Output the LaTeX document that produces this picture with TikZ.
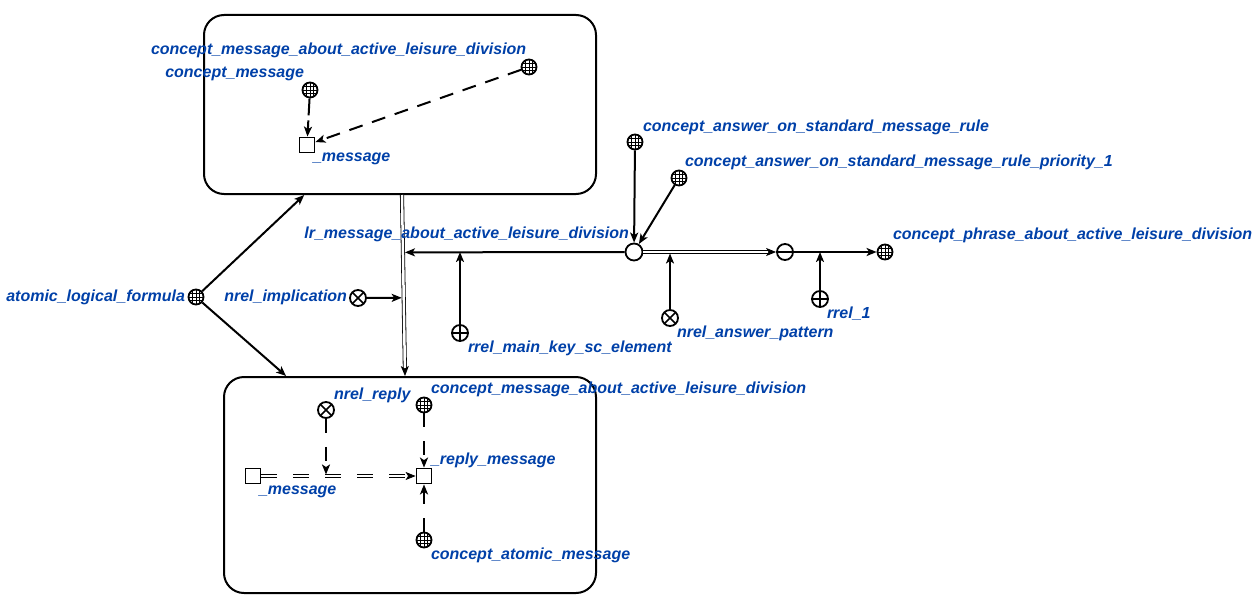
\documentclass[tikz,border=0pt]{standalone}
\usepackage{fontspec}
\setmainfont{Liberation Sans}
\usetikzlibrary{arrows.meta,positioning,calc}
\definecolor{sc-blue}{RGB}{0,64,168}

\begin{document}
\begin{tikzpicture}[x=1pt, y=-1pt, >={Stealth[length=10pt,width=8pt,inset=2.5pt]}, line width=2pt,
	   lbl/.style={text=sc-blue, font=\fontsize{16}{18}\selectfont\bfseries\itshape, inner sep=0pt},
	   box/.style={draw, rounded corners=20pt, line width=2pt},
	   cls/.style={circle, draw, fill=white, minimum size=15pt, inner sep=0pt, line width=1.8pt,
	     path picture={\foreach \gx in {-3.5,0,3.5}{
	       \draw[line width=0.7pt] ([xshift=\gx pt]path picture bounding box.north) -- ([xshift=\gx pt]path picture bounding box.south);
	       \draw[line width=0.7pt] ([yshift=\gx pt]path picture bounding box.west) -- ([yshift=\gx pt]path picture bounding box.east);}}},
	   rel/.style={circle, draw, fill=white, minimum size=16pt, inner sep=0pt, line width=1.8pt,
	     path picture={\draw[line width=1.5pt] (path picture bounding box.north west) -- (path picture bounding box.south east)
	       (path picture bounding box.south west) -- (path picture bounding box.north east);}},
	   role/.style={circle, draw, fill=white, minimum size=16pt, inner sep=0pt, line width=1.8pt,
	     path picture={\draw[line width=1.5pt] (path picture bounding box.north) -- (path picture bounding box.south)
	       (path picture bounding box.west) -- (path picture bounding box.east);}},
	   tup/.style={circle, draw, fill=white, minimum size=16pt, inner sep=0pt, line width=1.8pt,
	     path picture={\draw[line width=1.5pt] (path picture bounding box.west) -- (path picture bounding box.east);}},
	   nd/.style={circle, draw, fill=white, minimum size=17pt, inner sep=0pt, line width=1.8pt},
	   var/.style={rectangle, draw, fill=white, minimum size=15pt, inner sep=0pt, line width=1.8pt},
	   common/.style={double, double distance=2.5pt, line width=0.8pt},
	   vdash/.style={dash pattern=on 14pt off 14pt}]
	  \useasboundingbox (0,0) rectangle (1260,610);
	  % contours
	  \node[box, minimum width=392pt, minimum height=179pt] (topbox) at (400,104.5) {};
	  \node[box, minimum width=372pt, minimum height=216pt] (botbox) at (410,485) {};

	  % top contour
	  \node[cls] (cmsg) at (310,90) {};
	  \node[cls] (cmald) at (529,67) {};
	  \node[var] (msg) at (307,145) {};
	  \node[lbl, anchor=west] (l-cmald) at (150,50) {concept\_message\_about\_active\_leisure\_division};
	  \node[lbl, anchor=east] (l-cmsg) at (305,74) {concept\_message};
	  \node[lbl, anchor=west] (l-msg) at (312,159) {\_message};
	  \draw[->, dash pattern=on 17pt off 5pt] (cmsg) -- (msg);
	  \draw[->, dash pattern=on 14pt off 10pt] (cmald) -- (msg);

	  % implication
	  \node[cls] (alf) at (196,297) {};
	  \node[lbl, anchor=east] (l-alf) at (186,297) {atomic\_logical\_formula};
	  \draw[->] (alf) -- (topbox);
	  \draw[->] (alf) -- (botbox);
	  \coordinate (impA) at ($(topbox.south)+(2,0)$);
	  \coordinate (impB) at ($(botbox.north)+(-5,0)$);
	  \draw[common, ->] (impA) -- (impB);
	  \node[rel] (nimp) at (358,298) {};
	  \node[lbl, anchor=east] (l-nimp) at (348,297) {nrel\_implication};
	  \coordinate (impmid) at ($(impA)!0.568!(impB)$);
	  \draw[->, shorten >=2pt] (nimp) -- (impmid);

	  % answer rule
	  \node[nd] (lr) at (634,252) {};
	  \node[lbl, anchor=east] (l-lr) at (630,234) {lr\_message\_about\_active\_leisure\_division};
	  \coordinate (lrend) at ($(impA)!0.317!(impB)$);
	  \draw[->, shorten >=2pt] (lr) -- (lrend);
	  \node[role] (rmk) at (460,333) {};
	  \node[lbl, anchor=west] (l-rmk) at (467,348) {rrel\_main\_key\_sc\_element};
	  \draw[->] (rmk) -- (rmk |- lr);
	  \node[cls] (carule) at (635,142) {};
	  \node[lbl, anchor=west] (l-carule) at (642,127) {concept\_answer\_on\_standard\_message\_rule};
	  \draw[->] (carule) -- (lr);
	  \node[cls] (caprio) at (679,178) {};
	  \node[lbl, anchor=west] (l-caprio) at (684,162) {concept\_answer\_on\_standard\_message\_rule\_priority\_1};
	  \draw[->] (caprio) -- (lr);
	  \node[tup] (ans) at (785,252) {};
	  \draw[common, ->] (lr) -- (ans);
	  \node[rel] (nap) at (670,318) {};
	  \node[lbl, anchor=west] (l-nap) at (676,333) {nrel\_answer\_pattern};
	  \draw[->, shorten >=1.5pt] (nap) -- (nap |- lr);
	  \node[cls] (cphrase) at (885,252) {};
	  \node[lbl, anchor=west] (l-cphrase) at (892,235) {concept\_phrase\_about\_active\_leisure\_division};
	  \draw[->] (ans) -- (cphrase);
	  \node[role] (r1) at (820,299) {};
	  \node[lbl, anchor=west] (l-r1) at (826,314) {rrel\_1};
	  \draw[->] (r1) -- (r1 |- ans);

	  % bottom contour
	  \node[rel] (nrep) at (326,410) {};
	  \node[cls] (cmald2) at (424,405) {};
	  \node[var] (msg2) at (253,476) {};
	  \node[var] (rmsg) at (424,476) {};
	  \node[cls] (catm) at (424,540) {};
	  \node[lbl, anchor=west] (l-nrep) at (333,395) {nrel\_reply};
	  \node[lbl, anchor=west] (l-cmald2) at (430,389) {concept\_message\_about\_active\_leisure\_division};
	  \node[lbl, anchor=west] (l-rmsg) at (430,460) {\_reply\_message};
	  \node[lbl, anchor=west] (l-msg2) at (258,492) {\_message};
	  \node[lbl, anchor=west] (l-catm) at (430,555) {concept\_atomic\_message};
	  \draw[common, dash pattern=on 16pt off 16pt, ->] (msg2) -- (rmsg);
	  \draw[->, vdash, shorten >=1.5pt] (nrep) -- (nrep |- msg2);
	  \draw[->, vdash] (cmald2) -- (rmsg);
	  \draw[->, vdash] (catm) -- (rmsg);
	\end{tikzpicture}
\end{document}
